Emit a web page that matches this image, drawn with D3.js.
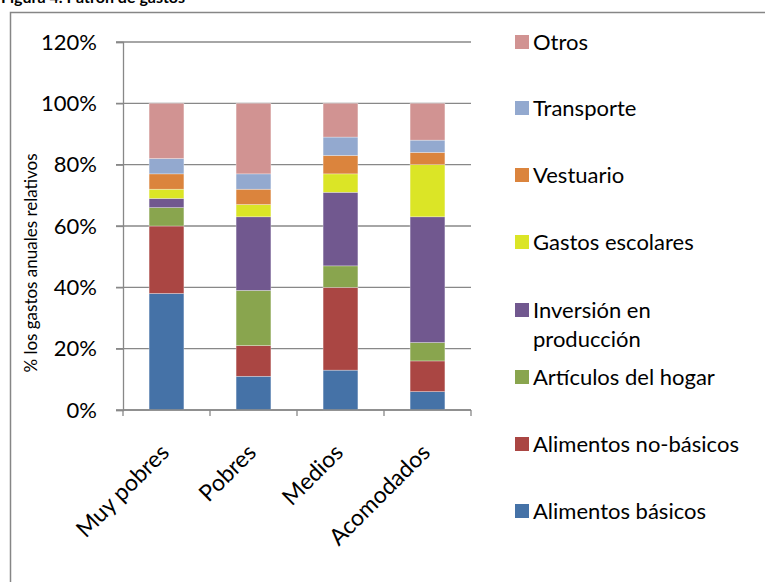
<!DOCTYPE html>
<html><head><meta charset="utf-8">
<script src="https://cdn.jsdelivr.net/npm/d3@7"></script>
<style>body{margin:0;background:#fff;} svg{display:block;font-family:Lato,"Open Sans",sans-serif;}</style>
</head><body>
<svg id="c" width="765" height="582"></svg>
<script>
const categories = ["Muy pobres","Pobres","Medios","Acomodados"];
const seriesNames = ["Alimentos básicos","Alimentos no-básicos","Artículos del hogar","Inversión en producción","Gastos escolares","Vestuario","Transporte","Otros"];
const seriesColors = ["#4572A7","#AA4643","#89A54E","#71588F","#DBE526","#DB843D","#93A9CF","#D19392"];
const basicos    = [38,11,13,6];
const noBasicos  = [22,10,27,10];
const hogar      = [6,18,7,6];
const inversion  = [3,24,24,41];
const escolares  = [3,4,6,17];
const vestuario  = [5,5,6,4];
const transporte = [5,5,6,4];
const otros      = [18,23,11,12];
const yTicks = [0,0.2,0.4,0.6,0.8,1.0,1.2];
const values = [basicos,noBasicos,hogar,inversion,escolares,vestuario,transporte,otros];

const svg = d3.select("#c");
// outer chart border
svg.append("rect").attr("x",10.5).attr("y",12.5).attr("width",800).attr("height",700)
  .attr("fill","none").attr("stroke","#868686").attr("stroke-width",1.5);
// cut-off title
svg.append("text").attr("x",1).attr("y",3).attr("font-weight","bold").attr("font-size",16)
  .attr("fill","#000").text("Figura 4. Patrón de gastos");

const x = d3.scaleBand().domain(categories).range([123,471]).paddingInner(0.6).paddingOuter(0.3);
const xb = d3.scaleBand().domain(categories).range([123,471]);
const y = d3.scaleLinear().domain([0,1.2]).range([410,42]);

// gridlines
svg.append("g").selectAll("line").data(yTicks).join("line")
  .attr("x1",116).attr("x2",471).attr("y1",d=>y(d)).attr("y2",d=>y(d))
  .attr("stroke","#888").attr("stroke-width",1.3);

// stacked data
const table = categories.map((c,i)=>{const o={cat:c}; seriesNames.forEach((s,j)=>o[s]=values[j][i]/100); return o;});
const stack = d3.stack().keys(seriesNames)(table);
svg.append("g").selectAll("g").data(stack).join("g")
  .attr("fill",(d,i)=>seriesColors[i])
  .selectAll("rect").data(d=>d).join("rect")
  .attr("x",d=>x(d.data.cat)).attr("width",x.bandwidth())
  .attr("y",d=>y(d[1])).attr("height",d=>y(d[0])-y(d[1]))
  .attr("stroke","rgba(255,255,255,0.5)").attr("stroke-width",0.6);

// y axis
const yAxis = d3.axisLeft(y).tickValues(yTicks).tickFormat(d=>Math.round(d*100)+"%").tickSize(7).tickPadding(19);
const gy = svg.append("g").attr("transform","translate(123,0)").call(yAxis);
gy.select(".domain").attr("stroke","#888").attr("stroke-width",1.3);
gy.selectAll(".tick line").attr("stroke","#888").attr("stroke-width",1.3);
gy.selectAll("text").attr("font-size",22).attr("fill","#000").attr("font-family","Lato,'Open Sans',sans-serif");

// x axis
const gx = svg.append("g").attr("transform","translate(0,410)");
gx.append("line").attr("x1",123).attr("x2",471).attr("stroke","#888").attr("stroke-width",1.3);
const bounds = categories.map(c=>xb(c)).concat([471]);
gx.selectAll("line.tk").data(bounds).join("line").attr("class","tk")
  .attr("x1",d=>d).attr("x2",d=>d).attr("y1",0).attr("y2",6).attr("stroke","#888").attr("stroke-width",1.3);
gx.selectAll("text").data(categories).join("text")
  .attr("transform",d=>`translate(${xb(d)+xb.bandwidth()/2+4},${44}) rotate(-45)`)
  .attr("text-anchor","end").attr("font-size",23).attr("fill","#000").text(d=>d);

// y label
svg.append("text").attr("transform","translate(37,263) rotate(-90)")
  .attr("text-anchor","middle").attr("font-size",17).attr("fill","#000").text("% los gastos anuales relativos");

// legend
const legendItems = [
  {i:7, y:42, lines:["Otros"]},
  {i:6, y:108, lines:["Transporte"]},
  {i:5, y:175, lines:["Vestuario"]},
  {i:4, y:242, lines:["Gastos escolares"]},
  {i:3, y:310, lines:["Inversión en","producción"]},
  {i:2, y:377, lines:["Artículos del hogar"]},
  {i:1, y:444, lines:["Alimentos no-básicos"]},
  {i:0, y:511, lines:["Alimentos básicos"]}
];
const lg = svg.append("g").selectAll("g").data(legendItems).join("g");
lg.append("rect").attr("x",515).attr("y",d=>d.y-7).attr("width",14).attr("height",14).attr("fill",d=>seriesColors[d.i]);
lg.append("text").attr("x",533).attr("y",d=>d.y+7.5).attr("font-size",22).attr("fill","#000")
  .selectAll("tspan").data(d=>d.lines).join("tspan").attr("x",533).attr("dy",(d,k)=>k?29:0).text(d=>d);
</script>
</body></html>
